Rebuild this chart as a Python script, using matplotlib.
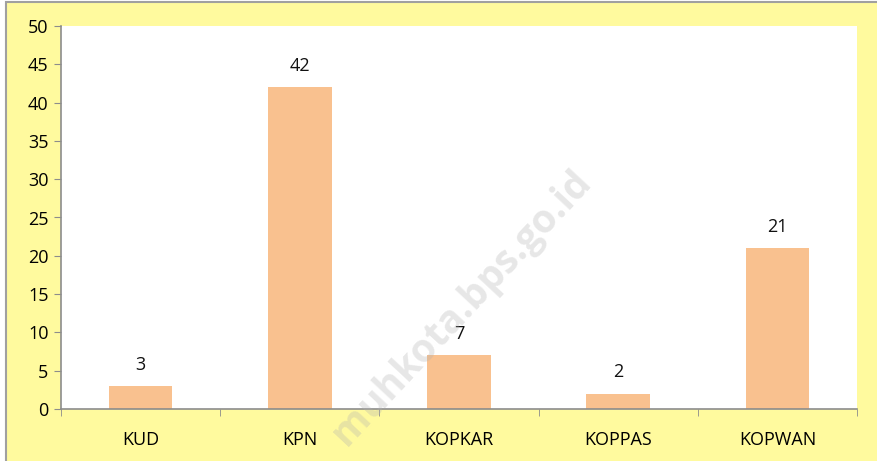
import numpy as np
import matplotlib
matplotlib.use("Agg")
import matplotlib.pyplot as plt
from matplotlib.patches import Rectangle

categories = ["KUD", "KPN", "KOPKAR", "KOPPAS", "KOPWAN"]
values = [3, 42, 7, 2, 21]

YELLOW = "#FFFA9E"
BAR = "#F9C18F"
GRAY = "#8C8C8C"

plt.rcParams["font.family"] = ["Open Sans", "DejaVu Sans"]

fig = plt.figure(figsize=(8.78, 4.61), dpi=100)
fig.patch.set_facecolor("white")
# yellow chart area with grey border on the left and top
fig.patches.append(Rectangle((6 / 878, -0.1), 1.2, (1 - 2 / 461) + 0.1,
                             transform=fig.transFigure, facecolor=YELLOW,
                             edgecolor="#A0A0A0", lw=1.5, zorder=-10))

ax = fig.add_axes([61 / 878, 1 - 409 / 461, (857 - 61) / 878, (409 - 26) / 461])
ax.set_facecolor("white")
x = np.arange(len(categories))
ax.bar(x, values, width=0.4, color=BAR, zorder=2)
for xi, v in zip(x, values):
    ax.annotate(str(v), (xi, v), xytext=(0, 9), textcoords="offset points",
                ha="center", va="bottom", fontsize=13, color="#111111")

ax.set_xlim(-0.5, len(categories) - 0.5)
ax.set_ylim(0, 50)
ax.set_yticks(range(0, 51, 5))
ax.set_xticks(x)
ax.set_xticklabels(categories)
ax.set_xticks(np.arange(-0.5, len(categories), 1), minor=True)
ax.tick_params(axis="x", which="major", length=0, pad=16, labelsize=13)
ax.tick_params(axis="x", which="minor", length=5, color=GRAY, direction="out")
ax.tick_params(axis="y", length=5, color=GRAY, labelsize=13, pad=4)
for s in ["top", "right"]:
    ax.spines[s].set_visible(False)
for s in ["left", "bottom"]:
    ax.spines[s].set_color(GRAY)
    ax.spines[s].set_linewidth(1.2)

fig.text(462 / 878, 1 - 308 / 461, "muhkota.bps.go.id", rotation=47,
         ha="center", va="center", fontsize=28, fontweight="bold",
         color="#B0B0B0", alpha=0.3, zorder=20)

fig.savefig("out.png", dpi=100)
